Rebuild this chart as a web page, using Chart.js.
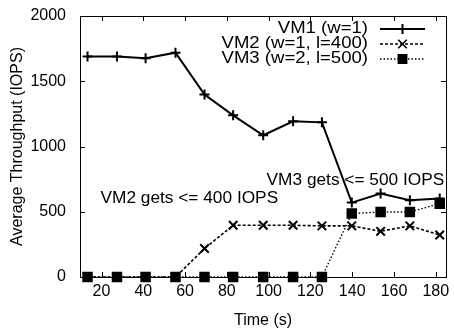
<!DOCTYPE html>
<html>
<head>
<meta charset="utf-8">
<script src="https://cdn.jsdelivr.net/npm/chart.js@4.4.1/dist/chart.umd.min.js"></script>
<style>
  html, body { margin: 0; padding: 0; background: #fff; }
  #wrap { width: 454px; height: 330px; }
</style>
</head>
<body>
<div id="wrap"><canvas id="ioChart" width="454" height="330"></canvas></div>
<script>
// time (s) of each sample
const times = [13.3, 27.4, 41.1, 55.4, 69.3, 83, 97.4, 111.7, 125.5, 139.8, 153.6, 167.6, 181.9];
const vm1 = [1690, 1690, 1676, 1719, 1398, 1239, 1086, 1193, 1185, 570, 639, 588, 601];
const vm2 = [0, 0, 0, 0, 218, 396, 396, 396, 392, 392, 350, 392, 322];
const vm3 = [0, 0, 0, 0, 0, 0, 0, 0, 0, 486, 498, 498, 562];
const seriesNames = ['VM1 (w=1)', 'VM2 (w=1, l=400)', 'VM3 (w=2, l=500)'];
const xTicks = [20, 40, 60, 80, 100, 120, 140, 160, 180];
const yTicks = [0, 500, 1000, 1500, 2000];
const notes = [
    { text: 'VM3 gets <= 500 IOPS', x: 99, y: 742 },
    { text: 'VM2 gets <= 400 IOPS', x: 19.5, y: 598 }
];

const FONT = '"Liberation Sans", Arial, Helvetica, sans-serif';
Chart.defaults.font.family = FONT;
Chart.defaults.font.size = 16;
Chart.defaults.color = '#000';

function pts(vals) {
    return vals.map((v, i) => ({ x: times[i], y: v }));
}

const styles = [
    { dash: [], width: 2, point: 'cross', radius: 5 },
    { dash: [3, 2], width: 1.6, point: 'crossRot', radius: 6 },
    { dash: [1.5, 2], width: 1.4, point: 'rect', radius: 6 }
];

// text a bit wider than the font, like the gnuplot output
function wideText(ctx, text, x, y, stretch, align) {
    ctx.save();
    ctx.translate(x, y);
    ctx.scale(stretch, 1);
    ctx.textAlign = align;
    ctx.fillText(text, 0, 0);
    ctx.restore();
}

// inward ticks on all four sides + border + labels + key
const gnuplotFrame = {
    id: 'gnuplotFrame',
    afterDraw(chart) {
        const ctx = chart.ctx;
        const a = chart.chartArea;
        const xs = chart.scales.x, ys = chart.scales.y;
        ctx.save();
        ctx.strokeStyle = '#000';
        ctx.lineWidth = 1;
        ctx.setLineDash([]);
        ctx.beginPath();
        xTicks.forEach(v => {
            const px = Math.round(xs.getPixelForValue(v)) + 0.5;
            ctx.moveTo(px, a.bottom); ctx.lineTo(px, a.bottom - 5);
            ctx.moveTo(px, a.top); ctx.lineTo(px, a.top + 5);
        });
        yTicks.forEach(v => {
            const py = Math.round(ys.getPixelForValue(v)) + 0.5;
            ctx.moveTo(a.left, py); ctx.lineTo(a.left + 5, py);
            ctx.moveTo(a.right, py); ctx.lineTo(a.right - 5, py);
        });
        ctx.stroke();
        ctx.strokeRect(Math.round(a.left) + 0.5, Math.round(a.top) + 0.5,
            Math.round(a.right - a.left), Math.round(a.bottom - a.top));

        ctx.fillStyle = '#000';
        ctx.font = '16px ' + FONT;
        ctx.textBaseline = 'middle';
        notes.forEach(n => {
            wideText(ctx, n.text, xs.getPixelForValue(n.x), ys.getPixelForValue(n.y), 1.08, 'left');
        });

        // key
        seriesNames.forEach((name, i) => {
            const y = a.top + 13 + i * 15;
            wideText(ctx, name, a.right - 78, y, 1.16, 'right');
            const s = styles[i];
            ctx.setLineDash(s.dash);
            ctx.lineWidth = s.width;
            ctx.beginPath();
            ctx.moveTo(a.right - 66, y);
            ctx.lineTo(a.right - 21, y);
            ctx.stroke();
            ctx.setLineDash([]);
            Chart.helpers.drawPoint(ctx, {
                pointStyle: s.point, radius: s.radius, rotation: 0, borderWidth: 2
            }, a.right - 43.5, y);
        });
        ctx.restore();
    }
};

const ctx = document.getElementById('ioChart').getContext('2d');
new Chart(ctx, {
    type: 'line',
    data: {
        datasets: [vm1, vm2, vm3].map((vals, i) => ({
            label: seriesNames[i],
            data: pts(vals),
            borderColor: '#000',
            backgroundColor: '#000',
            borderWidth: styles[i].width,
            borderDash: styles[i].dash,
            pointStyle: styles[i].point,
            pointRadius: styles[i].radius,
            pointBorderWidth: 2,
            pointBorderColor: '#000',
            pointBackgroundColor: '#000',
            tension: 0,
            fill: false,
            clip: false,
            order: 2 - i
        }))
    },
    options: {
        responsive: false,
        animation: false,
        layout: { padding: { left: 0, right: 6, top: 16, bottom: 0 } },
        plugins: {
            legend: { display: false },
            tooltip: { enabled: false }
        },
        scales: {
            x: {
                type: 'linear',
                min: 9.7,
                max: 184.9,
                afterBuildTicks: s => { s.ticks = xTicks.map(v => ({ value: v })); },
                afterFit: s => { s.height = 53; s.paddingLeft = 0; s.paddingRight = 0; },
                grid: { display: false, drawTicks: false },
                border: { display: false },
                ticks: { padding: 5, maxRotation: 0, autoSkip: false, callback: v => String(v) },
                title: { display: true, text: 'Time (s)', padding: { top: 4, bottom: 0 } }
            },
            y: {
                min: 0,
                max: 2000,
                afterBuildTicks: s => { s.ticks = yTicks.map(v => ({ value: v })); },
                afterFit: s => { s.width = 80; s.paddingTop = 0; s.paddingBottom = 0; },
                grid: { display: false, drawTicks: false },
                border: { display: false },
                ticks: { padding: 14, callback: v => String(v) },
                title: { display: true, text: 'Average Throughput (IOPS)', padding: { top: 8, bottom: 0 } }
            }
        }
    },
    plugins: [gnuplotFrame]
});
</script>
</body>
</html>
